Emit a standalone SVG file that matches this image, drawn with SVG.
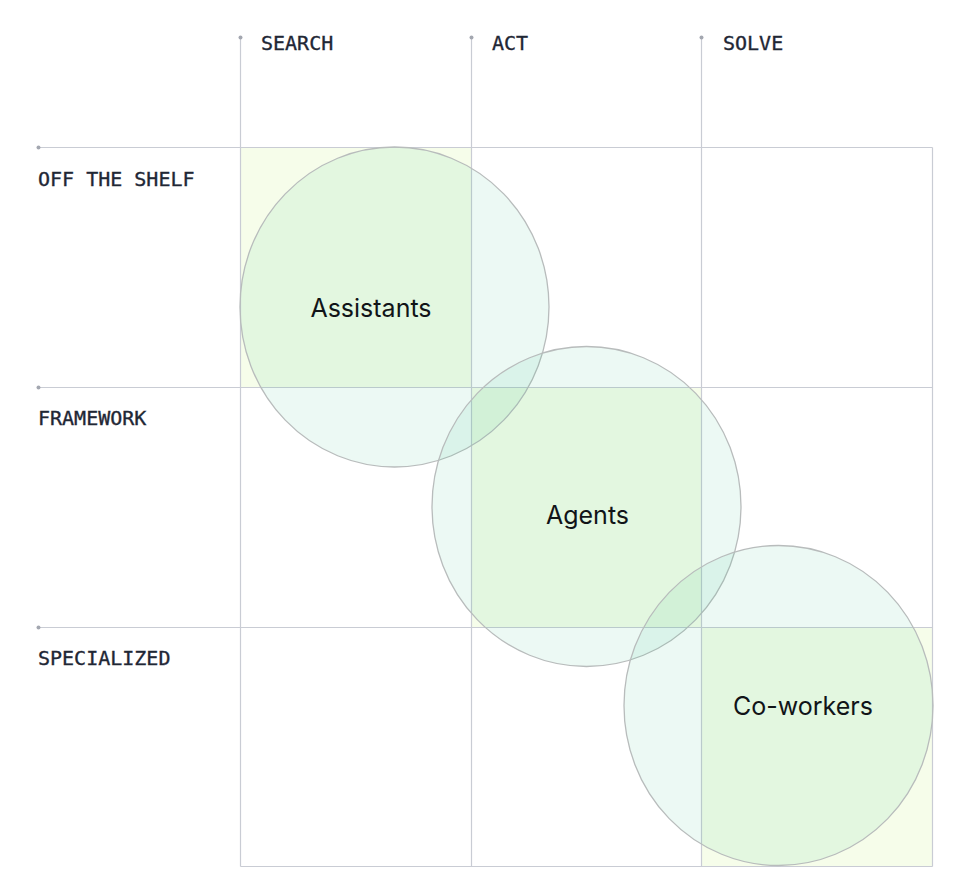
<svg xmlns="http://www.w3.org/2000/svg" width="980" height="892" viewBox="0 0 980 892">
<style>
.grid{stroke:#c9ccd4;stroke-width:1.2;fill:none}
.dot{fill:#a3a7b0}
.cell{fill:#f6fdea}
.circ{fill:#2fbf8a;fill-opacity:0.09;stroke:#b8bcbc;stroke-width:1.3}
.axis{font-family:"DejaVu Sans Mono","Liberation Mono",monospace;font-size:20px;fill:#1f2735;stroke:#1f2735;stroke-width:0.35}
.lbl{font-family:Inter,"Noto Sans",sans-serif;font-size:25px;fill:#111418;text-anchor:middle}
</style>
<rect width="980" height="892" fill="#ffffff"/>
<g id="cells">
<rect class="cell" x="240.5" y="147.5" width="231" height="240"/>
<rect class="cell" x="471.5" y="387.5" width="230" height="240"/>
<rect class="cell" x="701.5" y="627.5" width="231" height="239"/>
</g>
<g id="grid">
<line class="grid" x1="240.5" y1="37" x2="240.5" y2="866.5"/>
<line class="grid" x1="471.5" y1="37" x2="471.5" y2="866.5"/>
<line class="grid" x1="701.5" y1="37" x2="701.5" y2="866.5"/>
<line class="grid" x1="932.5" y1="147.5" x2="932.5" y2="866.5"/>
<line class="grid" x1="38" y1="147.5" x2="932.5" y2="147.5"/>
<line class="grid" x1="38" y1="387.5" x2="932.5" y2="387.5"/>
<line class="grid" x1="38" y1="627.5" x2="932.5" y2="627.5"/>
<line class="grid" x1="240.5" y1="866.5" x2="932.5" y2="866.5"/>
<circle class="dot" cx="240.5" cy="37.5" r="2"/>
<circle class="dot" cx="471.5" cy="37.5" r="2"/>
<circle class="dot" cx="701.5" cy="37.5" r="2"/>
<circle class="dot" cx="38.5" cy="147.5" r="2"/>
<circle class="dot" cx="38.5" cy="387.5" r="2"/>
<circle class="dot" cx="38.5" cy="627.5" r="2"/>
</g>
<g id="axis-labels">
<text class="axis" x="261" y="50">SEARCH</text>
<text class="axis" x="492" y="50">ACT</text>
<text class="axis" x="723" y="50">SOLVE</text>
<text class="axis" x="38" y="186">OFF THE SHELF</text>
<text class="axis" x="38" y="425">FRAMEWORK</text>
<text class="axis" x="38" y="665">SPECIALIZED</text>
</g>
<g id="assistants">
<ellipse class="circ" cx="394.5" cy="307" rx="154.5" ry="160"/>
<text class="lbl" x="371" y="317">Assistants</text>
</g>
<g id="agents">
<ellipse class="circ" cx="586.5" cy="506.5" rx="154.5" ry="160"/>
<text class="lbl" x="587.5" y="524">Agents</text>
</g>
<g id="coworkers">
<ellipse class="circ" cx="778.5" cy="705.5" rx="154.5" ry="160"/>
<text class="lbl" x="803" y="715">Co-workers</text>
</g>
</svg>
